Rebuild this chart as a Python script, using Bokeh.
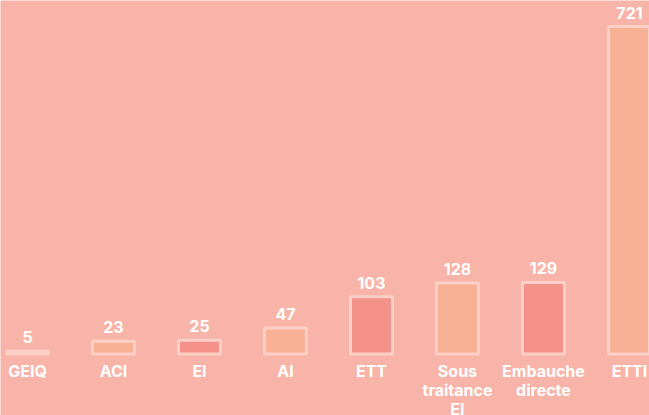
from bokeh.plotting import figure
from bokeh.models import ColumnDataSource, Range1d
from bokeh.core.properties import value
from bokeh.embed import file_html
from bokeh.resources import INLINE

# ---- data ----
categories = ["GEIQ", "ACI", "EI", "AI", "ETT", "Sous\ntraitance\nEI", "Embauche\ndirecte", "ETTI"]
values = [5, 23, 25, 47, 103, 128, 129, 721]
value_labels = [str(v) for v in values]

# ---- styling ----
BG = "#f8b4a8"
RED = "#f4918b"
ORANGE = "#f9b196"
BORDER = "#fcd0c6"
FONT = "Inter"
display_cap = 590  # tallest bar is drawn truncated, as in the original

fills = [RED if i % 2 == 0 else ORANGE for i in range(len(values))]
xs = list(range(len(values)))
heights = [min(v, display_cap) for v in values]

src = ColumnDataSource(dict(x=xs, top=heights, fill=fills, lab=value_labels, cat=categories))

p = figure(width=649, height=415, output_backend="svg", toolbar_location=None,
           x_range=Range1d(-0.314, 7.233), y_range=Range1d(-110.8, 636.9),
           min_border=0)
p.axis.visible = False
p.grid.visible = False
p.outline_line_color = None
p.background_fill_color = BG
p.border_fill_color = BG

p.vbar(x="x", top="top", bottom=0, width=0.488, source=src,
       fill_color="fill", line_color=BORDER, line_width=3)

p.text(x="x", y="top", text="lab", source=src, text_align="center",
       text_baseline="alphabetic", y_offset=-14, text_color="white",
       text_font=value(FONT), text_font_style="bold", text_font_size="16px")

p.text(x="x", y=0, text="cat", source=src, text_align="center",
       text_baseline="top", y_offset=6.5, text_color="white",
       text_font=value(FONT), text_font_style="bold", text_font_size="16px",
       text_line_height=0.95)

open("out.html", "w").write(file_html(p, INLINE))
